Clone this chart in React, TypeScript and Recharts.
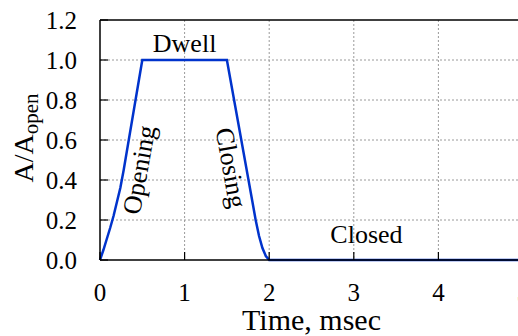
import React from 'react';
import { LineChart, Line, XAxis, YAxis, CartesianGrid, ReferenceLine, ReferenceDot } from 'recharts';

const times = [0, 0.04, 0.08, 0.12, 0.16, 0.2, 0.24, 0.28, 0.5, 1.5, 1.6, 1.7, 1.8, 1.84, 1.88, 1.92, 1.96, 2.0, 5.0];
const ratios = [0, 0.05, 0.105, 0.16, 0.22, 0.29, 0.36, 0.45, 1.0, 1.0, 0.765, 0.53, 0.295, 0.2, 0.12, 0.06, 0.02, 0, 0];

const xTicks = [0, 1, 2, 3, 4, 5];
const yTicks = [0, 0.2, 0.4, 0.6, 0.8, 1.0, 1.2];

const annotationText = ['Dwell', 'Opening', 'Closing', 'Closed'];
const annotationX = [1.0, 0.47, 1.54, 3.15];
const annotationY = [1.04, 0.45, 0.46, 0.085];
const annotationAngle = [0, -80, 80, 0];

const data = times.map((t, i) => ({ t, r: ratios[i] }));

const FONT = '"Liberation Serif", "Times New Roman", serif';
const TICK_MARGIN = 23;
const TICK_LEN = 8;

const YTick = (props: any) => {
  const { x, y, payload } = props;
  const ax = x + TICK_MARGIN;
  return (
    <g>
      <line x1={ax} x2={ax + TICK_LEN} y1={y} y2={y} stroke="#000" strokeWidth={1.2} />
      <text x={x} y={y} dy={8.5} textAnchor="end" fontFamily={FONT} fontSize={25} fill="#000">
        {Number(payload.value).toFixed(1)}
      </text>
    </g>
  );
};

const XTick = (props: any) => {
  const { x, y, payload } = props;
  const ay = y - TICK_MARGIN;
  return (
    <g>
      <line x1={x} x2={x} y1={ay} y2={ay - TICK_LEN} stroke="#000" strokeWidth={1.2} />
      <text x={x} y={y} dy={18} textAnchor="middle" fontFamily={FONT} fontSize={25} fill="#000">
        {payload.value}
      </text>
    </g>
  );
};

const YLabel = (props: any) => {
  const vb = props.viewBox;
  const cx = vb.x + 33;
  const cy = vb.y + vb.height / 2 - 2;
  return (
    <text x={cx} y={cy} transform={`rotate(-90, ${cx}, ${cy})`} textAnchor="middle" fontFamily={FONT} fontSize={28} fill="#000">
      <tspan>A/A</tspan>
      <tspan dy={5} fontSize={21}>open</tspan>
    </text>
  );
};

const XLabel = (props: any) => {
  const vb = props.viewBox;
  return (
    <text x={vb.x + vb.width / 2} y={vb.y + 70} textAnchor="middle" fontFamily={FONT} fontSize={30} fill="#000">
      Time, msec
    </text>
  );
};

const makeShape = (i: number) => (props: any) => {
  const { cx, cy } = props;
  const a = annotationAngle[i];
  return (
    <text
      x={cx}
      y={cy}
      dy={a === 0 ? 0 : 8}
      textAnchor="middle"
      transform={a === 0 ? undefined : `rotate(${a}, ${cx}, ${cy})`}
      fontFamily={FONT}
      fontSize={26}
      fill="#000"
    >
      {annotationText[i]}
    </text>
  );
};

export default function App() {
  return (
    <div style={{ position: 'fixed', left: 0, top: 0, width: 518, height: 336, overflow: 'hidden', background: '#fff' }}>
      <LineChart width={540} height={336} data={data} margin={{ top: 20, right: 17, bottom: 0, left: 0 }}>
        <CartesianGrid stroke="#9a9a9a" strokeDasharray="2 2" strokeWidth={1} horizontalValues={[0.2, 0.4, 0.6, 0.8, 1.0]} verticalValues={[1, 2, 3, 4]} />
        <XAxis
          dataKey="t"
          type="number"
          domain={[0, 5]}
          ticks={xTicks}
          tickSize={0}
          tickMargin={TICK_MARGIN}
          tick={<XTick />}
          axisLine={{ stroke: '#000', strokeWidth: 1.5 }}
          height={76}
          label={<XLabel />}
        />
        <YAxis
          type="number"
          domain={[0, 1.2]}
          ticks={yTicks}
          tickSize={0}
          tickMargin={TICK_MARGIN}
          tick={<YTick />}
          axisLine={{ stroke: '#000', strokeWidth: 1.5 }}
          width={100}
          label={<YLabel />}
        />
        <ReferenceLine y={1.2} stroke="#000" strokeWidth={1.5} />
        <ReferenceLine x={5} stroke="#000" strokeWidth={1.5} />
        <Line type="linear" dataKey="r" stroke="#0033cc" strokeWidth={2.5} dot={false} isAnimationActive={false} />
        {annotationText.map((txt, i) => (
          <ReferenceDot key={txt} x={annotationX[i]} y={annotationY[i]} r={0} shape={makeShape(i)} />
        ))}
      </LineChart>
    </div>
  );
}
